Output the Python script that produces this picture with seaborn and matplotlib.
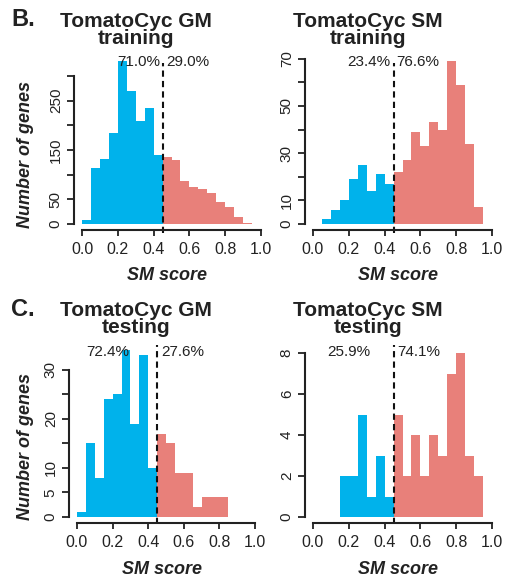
import numpy as np
import pandas as pd
import matplotlib
matplotlib.use("Agg")
import matplotlib.pyplot as plt
import matplotlib.transforms as mtransforms
import seaborn as sns

# ==================== data (counts per 0.05 bin of SM score) ====================
BIN_EDGES = np.linspace(0, 1, 21)
THRESH = 0.45

gm_train = [8, 114, 132, 185, 330, 270, 209, 234, 139, 136, 129, 87, 75, 71, 63, 45, 34, 14, 3, 1]
sm_train = [0, 2, 6, 10, 19, 25, 14, 21, 17, 22, 27, 39, 33, 43, 40, 69, 59, 34, 7, 0]
gm_test = [1, 15, 8, 24, 25, 34, 19, 33, 10, 17, 15, 9, 9, 2, 4, 4, 4, 0, 0, 0]
sm_test = [0, 0, 0, 2, 2, 5, 1, 3, 1, 5, 2, 4, 2, 4, 3, 7, 8, 3, 2, 0]

titles = ["TomatoCyc GM\ntraining", "TomatoCyc SM\ntraining",
          "TomatoCyc GM\ntesting", "TomatoCyc SM\ntesting"]
pct_left = ["71.0%", "23.4%", "72.4%", "25.9%"]
pct_right = ["29.0%", "76.6%", "27.6%", "74.1%"]
y_ticks = [list(range(0, 301, 50)), list(range(0, 71, 10)),
           list(range(0, 31, 5)), list(range(0, 9, 2))]
y_ticklabels = [["0", "50", "", "150", "", "250", ""],
                ["0", "10", "", "30", "", "50", "", "70"],
                ["0", "5", "10", "", "20", "", "30"],
                ["0", "2", "4", "6", "8"]]
x_ticks = [0.0, 0.2, 0.4, 0.6, 0.8, 1.0]

BLUE = "#00B2EB"
RED = "#E8807A"
INK = "#222222"

sns.set_theme(style="ticks")
plt.rcParams['font.family'] = ['Liberation Sans', 'DejaVu Sans']

W, H = 508, 577
fig = plt.figure(figsize=(W / 100, H / 100), dpi=100)

# layout in pixels: x0, x1, baseline y, ylim top, top y of axes, text y, dashed top/bottom
panels = [
    dict(x0=82, x1=261, yb=224, ymax=330, yt=61, ty=62, dtop=63, dbot=233, pl=0.436, pr=0.469),
    dict(x0=313, x1=492, yb=224, ymax=70, yt=58.7, ty=62, dtop=63, dbot=233, pl=0.434, pr=0.466),
    dict(x0=77, x1=255, yb=517, ymax=34, yt=350, ty=352, dtop=345, dbot=524, pl=0.291, pr=0.475),
    dict(x0=313, x1=492, yb=517, ymax=8, yt=353, ty=352, dtop=345, dbot=524, pl=0.322, pr=0.473),
]
series = [gm_train, sm_train, gm_test, sm_test]
centers = (BIN_EDGES[:-1] + BIN_EDGES[1:]) / 2

for i, (p, counts) in enumerate(zip(panels, series)):
    df = pd.DataFrame({"score": centers, "count": counts,
                       "group": np.where(centers < THRESH, "low", "high")})
    ax = fig.add_axes([p["x0"] / W, 1 - p["yb"] / H,
                       (p["x1"] - p["x0"]) / W, (p["yb"] - p["yt"]) / H])
    sns.histplot(data=df, x="score", weights="count", binwidth=0.05, binrange=(0, 1),
                 hue="group", palette={"low": BLUE, "high": RED}, hue_order=["low", "high"],
                 alpha=1, linewidth=0, legend=False, ax=ax)
    ax.set_xlim(0, 1)
    ax.set_ylim(0, p["ymax"])
    ax.set_xlabel("")
    ax.set_ylabel("")
    ax.set_facecolor("none")

    for s in ["top", "right"]:
        ax.spines[s].set_visible(False)
    ax.spines["left"].set_position(("outward", 5.8))
    ax.spines["bottom"].set_position(("outward", 4.3))
    ax.spines["left"].set_bounds(y_ticks[i][0], y_ticks[i][-1])
    ax.spines["bottom"].set_bounds(0, 1)
    for s in ["left", "bottom"]:
        ax.spines[s].set_linewidth(1.5)
        ax.spines[s].set_color(INK)

    ax.set_xticks(x_ticks)
    ax.set_xticklabels([f"{t:.1f}" for t in x_ticks], fontsize=11.5, color=INK)
    ax.set_yticks(y_ticks[i])
    ax.set_yticklabels(y_ticklabels[i], fontsize=11, color=INK,
                       rotation=90, va="center")
    ax.tick_params(axis="both", direction="out", width=1.3, color=INK)
    ax.tick_params(axis="x", length=4.5, pad=4.5)
    ax.tick_params(axis="y", length=5, pad=3)

    # threshold line and percentages
    trans = mtransforms.blended_transform_factory(ax.transData, fig.transFigure)
    ax.plot([THRESH, THRESH], [1 - p["dbot"] / H, 1 - p["dtop"] / H], transform=trans,
            color="#111111", lw=1.5, ls=(0, (3, 2)), clip_on=False)
    ax.text(p["pl"], 1 - p["ty"] / H, pct_left[i], transform=trans,
            ha="right", va="center", fontsize=11, color=INK)
    ax.text(p["pr"], 1 - p["ty"] / H, pct_right[i], transform=trans,
            ha="left", va="center", fontsize=11, color=INK)

    # axis labels
    xc = p["x0"] + 0.475 * (p["x1"] - p["x0"])
    fig.text(xc / W, 1 - (p["yb"] + 52) / H, "SM score", ha="center", va="center",
             fontsize=13, fontweight="bold", fontstyle="italic", color=INK)
    if i % 2 == 0:
        fig.text(26 / W, 1 - (p["yb"] - 70) / H, "Number of genes", rotation=90,
                 ha="center", va="center", fontsize=13, fontweight="bold",
                 fontstyle="italic", color=INK)

    # title (two lines, tight spacing)
    tc = 136 if i % 2 == 0 else 368
    tb = 44 if i < 2 else 333
    fig.text(tc / W, 1 - tb / H, titles[i], ha="center", va="baseline",
             multialignment="center", linespacing=0.88,
             fontsize=15, fontweight="bold", color=INK)

fig.text(11 / W, 1 - 26 / H, "B.", ha="left", va="baseline", fontsize=17,
         fontweight="bold", color=INK)
fig.text(11 / W, 1 - 316 / H, "C.", ha="left", va="baseline", fontsize=17,
         fontweight="bold", color=INK)

fig.savefig("out.png", dpi=100)
